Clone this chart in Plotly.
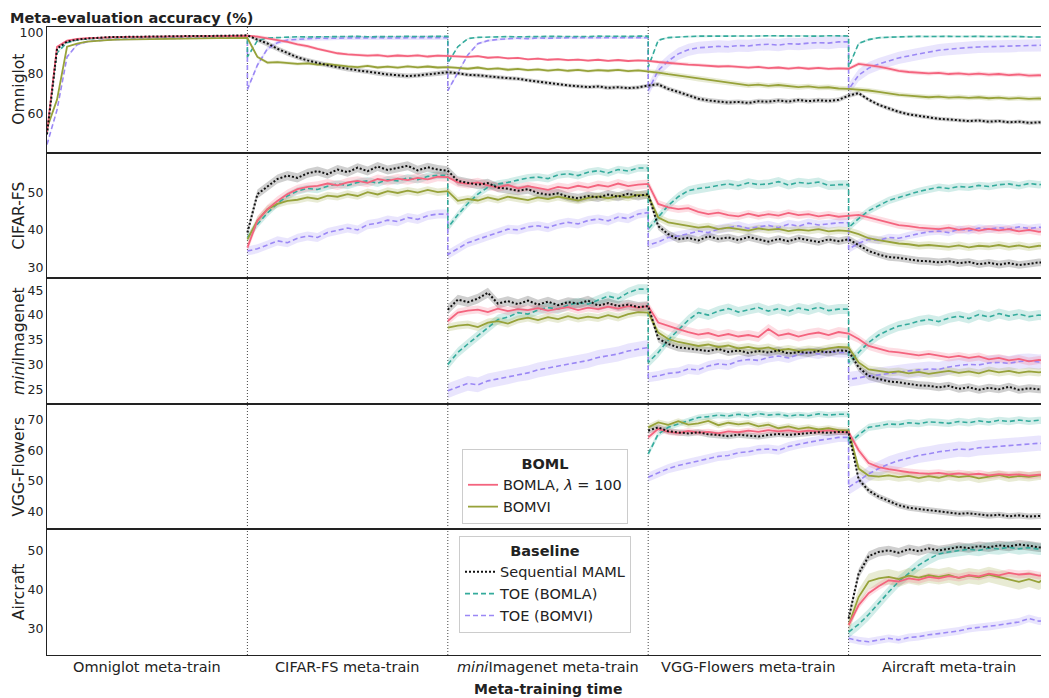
import plotly.graph_objects as go
from plotly.subplots import make_subplots

STEP = 5  # meta-training time between recorded evaluations

row_titles = ["Omniglot", "CIFAR-FS", "<i>mini</i>Imagenet", "VGG-Flowers", "Aircraft"]
phase_labels = ["Omniglot meta-train", "CIFAR-FS meta-train", "<i>mini</i>Imagenet meta-train",
                "VGG-Flowers meta-train", "Aircraft meta-train"]
phase_bounds = [100, 200, 300, 400]
y_ranges = [[41, 102.7], [27.2, 60.5], [22.2, 47.4], [34.1, 75.2], [23.1, 55.4]]
y_ticks = [[60, 80, 100], [30, 40, 50], [25, 30, 35, 40, 45], [40, 50, 60, 70], [30, 40, 50]]

# ---------------- Omniglot row (starts at t=0) ----------------
omni_bomla = [51, 93, 96, 96.8, 97.2, 97.4, 97.6, 97.7, 97.8, 97.8, 97.9, 98, 98, 98, 98.1, 98.1, 98.2, 98.2, 98.3, 98.3, 98.4,
              98.0, 97.2, 96.3, 95.4, 94.2, 93.3, 92.0, 91.0, 89.8, 89.3, 88.9, 88.6, 88.9, 88.3, 88.7, 88.4, 88.8, 88.2, 88.6, 88.5,
              88.3, 88.0, 88.4, 87.6, 87.9, 87.3, 87.5, 86.8, 87.2, 86.6, 86.9, 86.4, 86.7, 86.2, 86.6, 86.1, 86.5, 86.0, 86.3, 86.1,
              85.5, 85.0, 84.6, 84.2, 84.0, 83.6, 83.3, 83.5, 83.0, 82.7, 83.1, 82.5, 82.8, 82.3, 82.7, 82.2, 82.6, 82.1, 82.4, 82.2,
              84.6, 84.0, 83.2, 82.3, 81.2, 80.6, 80.2, 79.9, 80.2, 79.6, 79.9, 79.4, 79.8, 79.3, 79.6, 79.1, 79.4, 78.8, 79.0, 78.7]
omni_bomvi = [53, 67, 93, 94.5, 95.5, 96, 96.3, 96.5, 96.6, 96.7, 96.8, 96.9, 96.9, 97, 97, 97.1, 97.1, 97.2, 97.2, 97.3, 97.3,
              88.0, 85.2, 85.4, 85.0, 84.6, 84.8, 84.2, 84.5, 83.8, 83.4, 83.0, 83.6, 82.8, 83.2, 82.7, 83.4, 82.9, 83.3, 82.8, 83.0,
              82.6, 82.2, 82.8, 82.0, 82.4, 81.7, 82.1, 81.5, 81.9, 81.3, 81.8, 81.2, 81.6, 81.0, 81.5, 81.2, 81.6, 81.0, 81.4, 81.0,
              80.3, 79.5, 78.8, 78.1, 77.2, 76.5, 75.9, 75.2, 74.6, 74.0, 74.4, 73.8, 74.2, 73.6, 73.2, 73.5, 72.9, 73.1, 72.5, 72.3,
              72.0, 71.5, 70.8, 70.0, 69.4, 69.0, 68.6, 68.2, 68.5, 68.0, 68.3, 67.9, 68.2, 67.7, 68.0, 67.5, 67.8, 67.4, 67.6, 67.4]
omni_maml = [50, 92, 95.5, 96.5, 97, 97.5, 97.7, 97.8, 97.9, 98, 98, 98.1, 98.1, 98.2, 98.2, 98.3, 98.3, 98.4, 98.4, 98.5, 98.6,
             96.5, 94.6, 92.0, 89.7, 87.8, 86.3, 85.0, 83.9, 83.0, 82.1, 81.4, 80.8, 80.0, 79.4, 79.0, 78.6, 78.9, 79.4, 79.8, 80.5,
             80.0, 79.2, 79.0, 78.4, 78.0, 77.6, 77.3, 76.5, 75.8, 75.1, 74.4, 74.0, 73.6, 73.2, 73.5, 72.8, 73.1, 72.7, 73.0, 74.0,
             74.5, 72.3, 70.8, 69.2, 67.5, 66.6, 66.0, 65.6, 65.9, 65.4, 66.2, 66.0, 66.6, 66.1, 66.8, 66.3, 66.7, 66.4, 66.9, 69.0,
             70.2, 67.0, 64.5, 62.6, 61.0, 59.8, 59.0, 58.2, 57.6, 57.3, 57.0, 56.5, 56.8, 56.2, 56.5, 55.9, 56.2, 55.6, 55.9, 55.5]
omni_toe_la = [50, 90, 95, 96.3, 96.8, 97.2, 97.4, 97.5, 97.6, 97.7, 97.8, 97.8, 97.9, 97.9, 98, 98, 98, 98.1, 98.1, 98.2, 98.2,
               96.0, 97.3, 97.6, 97.7, 97.9, 97.8, 97.9, 98.0, 97.9, 98.0, 98.1, 97.9, 98.0, 98.1, 98.0, 98.1, 98.0, 98.2, 98.1, 98.1,
               93.0, 97.0, 97.6, 97.8, 97.9, 98.0, 97.9, 98.1, 98.0, 98.1, 98.0, 98.2, 98.1, 98.0, 98.2, 98.1, 98.2, 98.1, 98.2, 98.2,
               96.2, 97.5, 97.9, 98.0, 98.2, 98.1, 98.3, 98.2, 98.3, 98.2, 98.3, 98.4, 98.3, 98.2, 98.4, 98.3, 98.2, 98.4, 98.3, 98.3,
               94.6, 96.5, 97.4, 97.7, 97.9, 98.0, 98.1, 98.0, 98.2, 98.1, 98.0, 98.2, 98.1, 98.0, 98.1, 97.9, 98.0, 97.8, 97.9, 97.8]
omni_toe_vi = [45, 62, 88, 94, 95.5, 96, 96.4, 96.6, 96.8, 96.9, 97, 97, 97.1, 97.2, 97.2, 97.3, 97.3, 97.4, 97.4, 97.5, 97.5,
               84.0, 92.0, 95.0, 96.3, 96.6, 97.0, 97.2, 97.1, 97.3, 97.2, 97.4, 97.3, 97.5, 97.3, 97.4, 97.5, 97.3, 97.5, 97.4, 97.4,
               80.0, 89.0, 94.5, 96.0, 96.6, 97.0, 97.2, 97.0, 97.3, 97.2, 97.4, 97.3, 97.5, 97.4, 97.3, 97.5, 97.4, 97.5, 97.4, 97.4,
               81.4, 86.0, 89.5, 91.5, 92.5, 92.8, 93.2, 93.0, 93.6, 93.4, 94.0, 94.2, 93.8, 94.5, 94.3, 94.8, 95.0, 94.8, 95.4, 95.4,
               79.0, 82.5, 84.5, 86.0, 87.5, 88.5, 89.5, 90.5, 91.3, 91.8, 92.3, 92.6, 92.9, 93.1, 93.3, 93.2, 93.5, 93.6, 93.7, 93.7]
# value each TOE curve falls to right when a new task starts (t = 100, 200, 300, 400)
omni_toe_la_drop = [88.0, 85.0, 83.0, 83.0]
omni_toe_vi_drop = [72.0, 71.5, 71.5, 72.0]
omni_sd = {"bomla": [0.3, 0.8, 0.6, 0.8, 1.0], "bomvi": [0.3, 0.8, 0.8, 1.3, 1.2], "maml": [0.3, 1.2, 1.0, 1.2, 1.0],
           "toe_la": [0.3, 0.3, 0.3, 0.4, 0.5], "toe_vi": [0.5, 1.0, 0.6, 3.0, 3.0]}

# ---------------- CIFAR-FS row (starts at t=100) ----------------
cifar_bomla = [35.3, 42.5, 45.5, 47.7, 49.5, 50.8, 51.4, 51.7, 52.3, 51.8, 52.6, 53.0, 52.5, 53.5, 53.0, 53.6, 53.2, 53.8, 53.4, 54.1, 54.0,
               52.6, 52.2, 52.6, 51.8, 51.3, 51.9, 51.0, 51.6, 51.2, 50.6, 51.4, 51.0, 51.7, 51.2, 51.9, 51.5, 52.3, 51.6, 52.0, 52.2,
               46.9, 46.0, 45.5, 45.8, 44.8, 44.2, 44.6, 43.9, 43.6, 44.3, 43.7, 44.2, 43.8, 44.5, 43.9, 44.2, 43.6, 44.0, 43.5, 43.7,
               44.0, 43.3, 42.6, 42.0, 41.3, 41.0, 40.6, 40.4, 40.2, 40.6, 40.0, 40.4, 39.8, 40.3, 39.9, 40.2, 39.6, 40.0, 39.5, 39.7]
cifar_bomvi = [37.5, 42.5, 45.5, 46.9, 47.7, 48.0, 48.6, 48.2, 49.1, 48.8, 49.5, 49.0, 50.0, 49.4, 50.3, 49.8, 50.4, 49.9, 50.6, 50.0, 50.3,
               47.7, 48.2, 47.8, 48.6, 48.0, 48.8, 48.3, 47.9, 48.6, 48.2, 48.8, 48.3, 47.8, 48.5, 48.9, 48.4, 49.0, 48.6, 49.3, 49.1,
               43.3, 42.0, 41.6, 41.2, 40.6, 40.9, 40.2, 40.6, 40.2, 39.8, 40.4, 40.0, 40.3, 39.7, 40.1, 39.8, 40.2, 39.6, 39.9, 39.7,
               38.9, 37.8, 37.3, 36.8, 36.4, 36.2, 35.8, 36.0, 35.7, 35.5, 35.9, 35.4, 35.8, 35.6, 36.0, 35.5, 35.9, 35.4, 35.8, 35.7]
cifar_maml = [39.3, 49.5, 51.5, 53.5, 54.4, 53.8, 55.0, 55.6, 54.8, 56.0, 55.3, 56.5, 55.6, 56.8, 55.9, 56.4, 57.0, 55.8, 56.6, 56.0, 55.7,
              53.0, 52.6, 52.0, 52.4, 51.2, 50.9, 50.4, 50.8, 49.8, 49.3, 49.7, 48.8, 48.4, 49.0, 48.6, 49.4, 48.8, 49.6, 49.0, 49.5,
              41.0, 38.9, 37.5, 37.9, 37.2, 38.3, 37.6, 38.0, 37.3, 38.1, 37.5, 36.9, 37.6, 37.0, 37.8, 37.2, 36.8, 37.5, 37.0, 37.5,
              36.0, 34.4, 33.5, 32.8, 32.6, 32.2, 31.8, 31.7, 31.4, 31.7, 31.2, 31.5, 30.9, 31.3, 30.8, 31.2, 30.7, 31.0, 31.4, 31.3]
cifar_toe_la = [38.0, 41.5, 44.5, 47.0, 49.0, 50.3, 51.0, 50.7, 51.6, 52.2, 51.8, 52.6, 53.0, 52.4, 53.3, 53.0, 53.8, 53.3, 54.2, 54.5, 54.5,
                44.0, 47.0, 49.5, 51.3, 52.2, 52.6, 53.2, 53.8, 54.0, 53.6, 54.6, 54.9, 54.4, 55.3, 55.7, 55.1, 56.0, 55.6, 56.4, 56.4,
                43.3, 46.5, 48.8, 50.4, 51.0, 51.3, 51.8, 52.2, 51.7, 52.5, 52.0, 52.2, 52.8, 51.9, 52.6, 52.3, 52.7, 51.8, 52.0, 52.0,
                43.0, 45.1, 46.5, 47.8, 48.6, 49.5, 50.2, 50.8, 51.3, 51.0, 51.5, 51.3, 51.8, 51.5, 52.0, 52.2, 51.7, 52.3, 52.0, 52.2]
cifar_toe_vi = [34.4, 35.0, 36.0, 37.1, 36.6, 37.8, 38.4, 38.0, 39.3, 39.8, 40.5, 40.0, 41.4, 41.8, 42.6, 42.2, 43.3, 42.8, 43.8, 44.2, 44.2,
                35.0, 36.6, 37.5, 38.4, 39.4, 40.2, 40.0, 40.8, 41.1, 40.6, 41.5, 42.0, 41.6, 42.5, 42.9, 42.4, 43.4, 43.0, 44.2, 44.6,
                36.8, 38.0, 38.4, 39.0, 39.7, 39.3, 40.2, 40.6, 41.1, 40.4, 40.8, 41.2, 40.6, 41.5, 41.0, 41.8, 41.3, 41.5, 41.9, 41.9,
                36.5, 37.5, 37.2, 38.0, 37.8, 38.5, 39.0, 39.5, 39.7, 39.3, 40.2, 39.8, 40.5, 40.2, 40.6, 40.3, 40.8, 40.4, 40.7, 40.6]
cifar_toe_la_drop = [40.6, 40.2, 40.6]
cifar_toe_vi_drop = [33.5, 36.0, 34.9]
cifar_sd = {"bomla": [1.2, 1.2, 1.0, 1.0], "bomvi": [1.0, 1.0, 1.0, 1.0], "maml": [1.2, 1.2, 1.0, 1.0],
            "toe_la": [1.0, 1.0, 1.2, 1.0], "toe_vi": [1.2, 1.2, 1.2, 1.0]}

# ---------------- miniImagenet row (starts at t=200) ----------------
mini_bomla = [38.8, 40.5, 40.9, 41.1, 40.6, 41.3, 40.8, 41.2, 41.0, 41.4, 40.9, 41.3, 41.6, 41.0, 41.5, 41.2, 41.7, 41.3, 41.8, 41.5, 41.8,
              38.5, 37.8, 37.2, 36.6, 36.1, 36.4, 35.8, 36.2, 35.7, 36.0, 35.6, 37.2, 35.9, 36.3, 35.7, 36.2, 36.5, 36.0, 36.6, 36.3,
              35.2, 33.8, 33.2, 32.7, 32.5, 32.2, 31.9, 32.2, 31.8, 31.5, 31.8, 31.4, 31.7, 31.1, 31.4, 30.9, 31.2, 30.7, 31.0, 30.8]
mini_bomvi = [37.5, 37.9, 38.1, 37.6, 38.5, 38.8, 38.3, 39.1, 39.5, 39.0, 39.6, 39.2, 39.8, 39.3, 39.7, 39.4, 40.0, 39.5, 40.2, 40.6, 40.5,
              36.5, 35.2, 34.6, 34.2, 33.8, 34.1, 33.6, 33.9, 33.3, 33.6, 33.2, 33.5, 32.9, 33.2, 32.8, 33.1, 32.9, 33.3, 33.6, 33.5,
              30.5, 29.1, 28.8, 28.5, 28.7, 28.3, 28.6, 28.2, 28.5, 28.8, 28.4, 28.7, 28.3, 28.9, 28.5, 28.8, 28.4, 28.7, 28.5, 28.8]
mini_maml = [41.1, 43.1, 42.6, 43.3, 44.5, 42.3, 42.8, 42.2, 42.9, 42.1, 42.7, 42.0, 42.6, 42.3, 42.9, 41.9, 42.4, 41.8, 42.1, 41.6, 41.8,
             35.3, 34.2, 33.5, 33.3, 33.1, 32.8, 33.2, 32.6, 32.9, 32.4, 32.8, 32.5, 32.9, 32.3, 32.6, 32.4, 32.8, 32.5, 32.9, 32.8,
             29.5, 27.8, 27.2, 26.7, 26.5, 26.2, 25.9, 25.8, 25.5, 25.8, 25.2, 25.5, 25.0, 25.4, 25.1, 25.6, 25.0, 25.3, 25.1, 25.2]
mini_toe_la = [30.1, 32.5, 34.2, 35.8, 37.5, 39.1, 39.6, 40.5, 40.2, 41.0, 41.5, 41.2, 42.0, 42.5, 42.2, 43.0, 43.8, 43.3, 44.5, 45.2, 45.2,
               32.5, 35.0, 37.1, 39.0, 40.5, 40.0, 40.8, 41.3, 40.6, 41.1, 41.5, 40.8, 41.3, 40.7, 41.4, 41.0, 41.6, 40.9, 41.2, 41.2,
               32.5, 34.5, 36.0, 37.0, 37.8, 38.2, 38.8, 39.1, 38.7, 39.4, 39.8, 39.3, 40.1, 39.6, 40.3, 39.8, 40.2, 39.7, 40.0, 39.8]
mini_toe_vi = [24.8, 25.6, 26.3, 26.0, 26.8, 27.2, 27.6, 28.1, 28.4, 29.0, 29.4, 29.8, 30.2, 30.6, 30.9, 31.5, 31.8, 32.2, 32.8, 33.2, 33.5,
               27.8, 28.3, 28.5, 29.2, 29.0, 29.8, 30.2, 30.0, 30.8, 31.1, 30.9, 31.5, 31.8, 31.4, 32.1, 32.5, 32.2, 32.7, 32.5, 32.5,
               27.4, 27.8, 28.0, 28.3, 28.5, 28.8, 29.0, 29.2, 29.1, 29.6, 29.9, 30.1, 30.0, 30.4, 30.5, 30.3, 30.7, 30.8, 30.6, 30.8]
mini_toe_la_drop = [30.5, 30.5]
mini_toe_vi_drop = [27.5, 27.1]
mini_sd = {"bomla": [0.8, 1.0, 0.8], "bomvi": [0.8, 0.8, 0.8], "maml": [1.0, 0.8, 0.8],
           "toe_la": [1.0, 1.0, 1.0], "toe_vi": [1.5, 1.0, 1.5]}

# ---------------- VGG-Flowers row (starts at t=300) ----------------
vgg_bomla = [64.2, 67.0, 66.0, 65.6, 66.3, 65.8, 66.0, 65.5, 66.2, 65.9, 66.4, 66.0, 66.6, 66.2, 66.5, 66.0, 66.4, 66.1, 66.5, 66.0, 65.9,
             60.0, 55.8, 54.5, 53.8, 53.2, 52.8, 52.5, 52.3, 52.6, 52.1, 52.4, 52.0, 52.3, 51.8, 52.2, 51.9, 52.1, 51.7, 52.0, 51.9]
vgg_bomvi = [67.5, 69.1, 68.3, 69.5, 68.4, 68.8, 69.6, 68.2, 69.0, 68.5, 68.9, 67.8, 68.4, 67.2, 67.8, 67.0, 67.5, 66.8, 67.2, 66.6, 66.4,
             54.0, 51.7, 51.4, 51.8, 51.2, 51.6, 50.9, 51.5, 51.0, 51.8, 51.2, 51.6, 50.8, 51.4, 51.9, 51.1, 51.6, 51.3, 51.8, 51.7]
vgg_maml = [66.4, 67.5, 66.2, 65.8, 65.5, 65.9, 65.2, 65.0, 64.6, 65.1, 64.8, 64.5, 65.0, 65.3, 65.0, 65.4, 65.6, 65.9, 65.7, 66.0, 65.9,
            50.5, 46.8, 44.8, 43.3, 42.0, 41.2, 40.8, 40.3, 39.9, 39.5, 39.2, 39.4, 38.9, 38.6, 38.9, 38.4, 38.7, 38.3, 38.5, 38.4]
vgg_toe_la = [58.8, 65.3, 67.5, 68.6, 69.8, 70.7, 71.0, 71.5, 71.2, 71.8, 71.3, 72.0, 71.5, 71.8, 71.2, 71.6, 71.3, 71.9, 71.5, 71.8, 71.8,
              65.0, 67.5, 68.0, 68.6, 68.4, 69.0, 68.7, 69.3, 69.1, 68.8, 69.4, 69.0, 69.6, 69.2, 69.8, 69.4, 69.9, 69.5, 69.8, 69.6]
vgg_toe_vi = [51.2, 52.6, 54.0, 55.0, 55.8, 56.5, 57.2, 58.0, 58.3, 59.2, 59.5, 60.2, 60.4, 60.0, 61.2, 62.0, 62.6, 63.2, 63.6, 64.2, 64.2,
              50.0, 52.3, 54.0, 55.5, 56.6, 57.5, 58.3, 58.8, 59.5, 59.9, 60.4, 60.2, 60.8, 61.0, 61.3, 61.5, 61.8, 62.0, 62.3, 62.1]
vgg_toe_la_drop = [62.1]
vgg_toe_vi_drop = [47.9]
vgg_sd = {"bomla": [1.0, 1.2], "bomvi": [1.0, 1.5], "maml": [1.0, 1.0],
          "toe_la": [1.0, 1.2], "toe_vi": [1.5, 2.5]}

# ---------------- Aircraft row (starts at t=400) ----------------
air_bomla = [30.8, 35.9, 39.0, 40.8, 42.3, 42.0, 42.8, 42.4, 43.2, 42.8, 43.4, 43.0, 43.6, 43.3, 44.0, 43.6, 44.2, 43.8, 44.0, 43.5, 43.6]
air_bomvi = [30.8, 38.0, 42.0, 42.8, 43.2, 42.6, 43.5, 43.0, 43.6, 43.2, 43.7, 42.9, 43.5, 43.1, 43.8, 43.2, 42.5, 41.9, 42.6, 41.8, 43.6]
air_maml = [32.5, 44.0, 48.5, 49.6, 50.0, 49.4, 50.3, 49.8, 50.5, 50.0, 50.4, 50.9, 50.6, 51.1, 50.8, 51.3, 51.0, 51.5, 51.2, 50.8, 50.6]
air_toe_la = [29.0, 31.0, 33.5, 36.5, 39.3, 42.0, 44.2, 46.2, 47.8, 49.1, 49.6, 50.0, 50.3, 50.0, 50.6, 50.4, 50.8, 50.4, 50.7, 50.3, 50.5]
air_toe_vi = [27.4, 26.8, 26.5, 26.9, 27.4, 27.0, 27.6, 27.8, 28.3, 28.6, 28.9, 29.3, 29.9, 30.2, 30.4, 30.8, 31.2, 31.6, 32.5, 31.8, 32.0]
air_sd = {"bomla": [1.0], "bomvi": [2.0], "maml": [1.2], "toe_la": [1.5], "toe_vi": [1.0]}

rows_data = [
    ({"bomla": omni_bomla, "bomvi": omni_bomvi, "maml": omni_maml, "toe_la": omni_toe_la, "toe_vi": omni_toe_vi},
     {"toe_la": omni_toe_la_drop, "toe_vi": omni_toe_vi_drop}, omni_sd),
    ({"bomla": cifar_bomla, "bomvi": cifar_bomvi, "maml": cifar_maml, "toe_la": cifar_toe_la, "toe_vi": cifar_toe_vi},
     {"toe_la": cifar_toe_la_drop, "toe_vi": cifar_toe_vi_drop}, cifar_sd),
    ({"bomla": mini_bomla, "bomvi": mini_bomvi, "maml": mini_maml, "toe_la": mini_toe_la, "toe_vi": mini_toe_vi},
     {"toe_la": mini_toe_la_drop, "toe_vi": mini_toe_vi_drop}, mini_sd),
    ({"bomla": vgg_bomla, "bomvi": vgg_bomvi, "maml": vgg_maml, "toe_la": vgg_toe_la, "toe_vi": vgg_toe_vi},
     {"toe_la": vgg_toe_la_drop, "toe_vi": vgg_toe_vi_drop}, vgg_sd),
    ({"bomla": air_bomla, "bomvi": air_bomvi, "maml": air_maml, "toe_la": air_toe_la, "toe_vi": air_toe_vi},
     {}, air_sd),
]

styles = {
    "bomla": dict(name="BOMLA, <i>λ</i> = 100", color="#f4647e", rgba="rgba(244,100,126,0.22)", dash="solid", width=1.8, legend="legend"),
    "bomvi": dict(name="BOMVI", color="#97a23a", rgba="rgba(151,162,58,0.22)", dash="solid", width=1.8, legend="legend"),
    "maml": dict(name="Sequential MAML", color="#111111", rgba="rgba(17,17,17,0.2)", dash="2px,2px", width=2.0, legend="legend2"),
    "toe_la": dict(name="TOE (BOMLA)", color="#34ab9c", rgba="rgba(52,171,156,0.22)", dash="5px,3px", width=1.6, legend="legend2"),
    "toe_vi": dict(name="TOE (BOMVI)", color="#9b88f5", rgba="rgba(155,136,245,0.22)", dash="5px,3px", width=1.6, legend="legend2"),
}
band_order = ["toe_vi", "toe_la", "maml", "bomvi", "bomla"]
line_order = ["toe_vi", "toe_la", "bomvi", "bomla", "maml"]
legend_order = ["bomla", "bomvi", "maml", "toe_la", "toe_vi"]


def build(start, vals, drops, sds):
    """x / y / sd lists; a task-switch drop adds a second point at the same time step."""
    xs, ys, ss = [], [], []
    for i, v in enumerate(vals):
        x = start + STEP * i
        s = sds[min(max(0, (i - 1) // 20), len(sds) - 1)]
        xs.append(x); ys.append(v); ss.append(s)
        if drops and i > 0 and i % 20 == 0 and i < len(vals) - 1:
            k = i // 20 - 1
            if k < len(drops):
                xs.append(x); ys.append(drops[k]); ss.append(sds[min(i // 20, len(sds) - 1)])
    return xs, ys, ss


fig = make_subplots(rows=5, cols=1, shared_xaxes=True, vertical_spacing=0)

for r, (series, drops, sds) in enumerate(rows_data):
    start = 100 * r
    for key in band_order:
        xs, ys, ss = build(start, series[key], drops.get(key), sds[key])
        up = [v + s for v, s in zip(ys, ss)]
        lo = [v - s for v, s in zip(ys, ss)]
        st = styles[key]
        fig.add_trace(go.Scatter(x=xs + xs[::-1], y=up + lo[::-1], fill="toself", fillcolor=st["rgba"],
                                 line=dict(width=0), mode="lines", hoverinfo="skip", showlegend=False),
                      row=r + 1, col=1)
    for key in line_order:
        xs, ys, ss = build(start, series[key], drops.get(key), sds[key])
        st = styles[key]
        fig.add_trace(go.Scatter(x=xs, y=ys, mode="lines", name=st["name"],
                                 line=dict(color=st["color"], width=st["width"], dash=st["dash"]),
                                 legend=st["legend"], legendrank=legend_order.index(key) + 1,
                                 showlegend=(r == 0)), row=r + 1, col=1)

for r in range(5):
    fig.update_yaxes(range=y_ranges[r], tickvals=y_ticks[r], row=r + 1, col=1)
fig.update_xaxes(range=[0, 500], showticklabels=False, showgrid=False, zeroline=False, ticks="",
                 showline=True, mirror=True, linecolor="#222", linewidth=1.2)
fig.update_yaxes(showgrid=False, zeroline=False, ticks="", showline=True, mirror=True,
                 linecolor="#222", linewidth=1.2, tickfont=dict(size=12.5, color="#222"))

for b in phase_bounds:
    fig.add_shape(type="line", xref="x", yref="paper", x0=b, x1=b, y0=0, y1=1,
                  line=dict(color="#444", width=1, dash="1px,2px"), layer="below")

# the page body has an 8 px margin, so the figure is drawn 8 px right and down
OFF = 8
W, H = 1049 - OFF, 698 - OFF
L, R, T, B = 47 - OFF, 0, 27 - OFF, 43
pw, ph = W - L - R, H - T - B


def px_x(px):
    return (px - OFF - L) / pw


def px_y(py):
    return (H - B - (py - OFF)) / ph


ann = []
ann.append(dict(text="<b>Meta-evaluation accuracy (%)</b>", x=px_x(OFF), y=px_y(OFF), xanchor="left", yanchor="top",
                font=dict(size=14.5)))
for r, t in enumerate(row_titles):
    ann.append(dict(text=t, x=px_x(OFF), y=1 - (r + 0.5) / 5, textangle=-90, xanchor="left", yanchor="middle",
                    font=dict(size=15.5)))
for p, t in enumerate(phase_labels):
    ann.append(dict(text=t, x=(p + 0.5) / 5, y=px_y(667), xanchor="center", yanchor="middle", font=dict(size=14.5)))
ann.append(dict(text="<b>Meta-training time</b>", x=0.5, y=px_y(689), xanchor="center", yanchor="middle",
                font=dict(size=14)))
for a in ann:
    a.update(xref="paper", yref="paper", showarrow=False)

legend_common = dict(xanchor="left", yanchor="top", bgcolor="white", bordercolor="#cccccc", borderwidth=1,
                     font=dict(size=14.5, color="#222"), itemwidth=30, tracegroupgap=0)
fig.update_layout(
    width=W, height=H, margin=dict(l=L, r=R, t=T, b=B),
    plot_bgcolor="white", paper_bgcolor="white",
    font=dict(family="DejaVu Sans", color="#222"),
    annotations=ann,
    legend=dict(x=px_x(462), y=px_y(449), title=dict(text="<b>BOML</b>", side="top center", font=dict(size=14.5)),
                **legend_common),
    legend2=dict(x=px_x(459), y=px_y(536), title=dict(text="<b>Baseline</b>", side="top center", font=dict(size=14.5)),
                 **legend_common),
    hovermode=False,
)

fig.write_html("out.html")
